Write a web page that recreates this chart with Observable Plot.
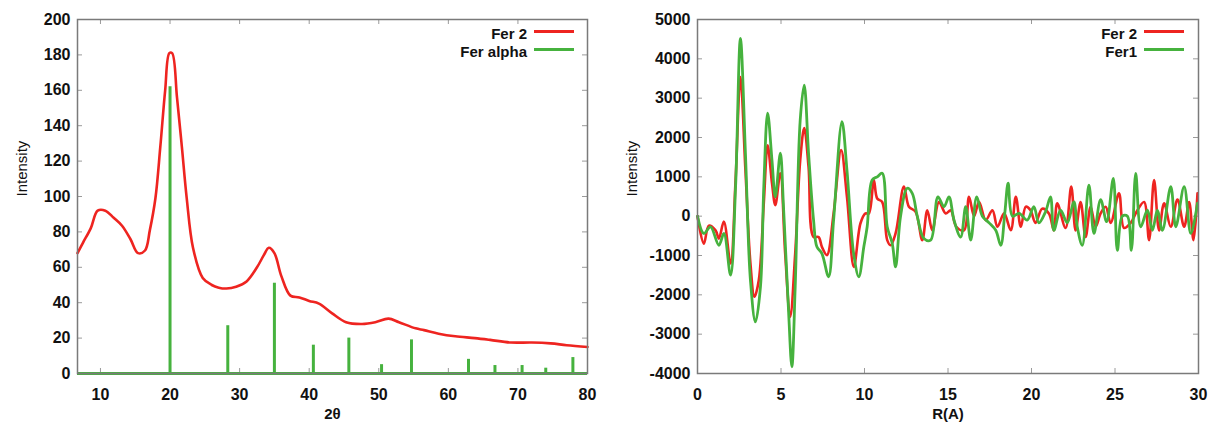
<!DOCTYPE html>
<html>
<head>
<meta charset="utf-8">
<script src="https://cdn.jsdelivr.net/npm/d3@7"></script>
<script src="https://cdn.jsdelivr.net/npm/@observablehq/plot@0.6"></script>
<style>
  html, body { margin: 0; padding: 0; background: #fff; }
  #wrap { position: relative; width: 1212px; height: 426px; font-family: "Liberation Sans", Arial, sans-serif; }
  .panel { position: absolute; top: 0; }
  .leg { position: absolute; font-weight: bold; font-size: 15px; color: #111; line-height: 1; }
  .leg span.t { position: absolute; right: 0; white-space: nowrap; transform: translateY(-50%); }
  .sw { position: absolute; height: 3px; }
</style>
</head>
<body>
<div id="wrap"></div>
<script>
// ---------- Left panel: XRD (2θ vs Intensity) ----------
const xrdTheta = [6.7,7.5,8.6,9.6,10.7,11.9,13.1,14.3,15.4,16.4,17.1,17.9,18.6,19.3,19.9,20.3,21,21.7,22.4,23.3,24.7,26,27,28.1,29.5,31,32.5,33.5,34.2,35,36,37.3,38.6,40,41.4,43.3,45.3,47.6,49.5,51.4,52.9,55.3,56.5,58.6,61,63.8,66,69,72,74.7,77,80];
const xrdFer2  = [68,74,82,92,92,88,83.5,76,68,69.5,81,99,128,160,181,181,156,128,99,71,54,50,48.5,48,49,52,60,67,71,68,55,44,43,41,39.5,34,29,28,29,31,29,25.5,24.5,22.5,21,20,19,17.5,17.5,17,16,15];
const alphaPeakTheta = [20,28.3,35,40.6,45.7,50.4,54.7,62.9,66.7,70.6,74,77.9];
const alphaPeakHeight = [162,27,51,16,20,5,19,8,4.5,4.5,3,9];
const xrdXTicks = [10,20,30,40,50,60,70,80];
const xrdYTicks = [0,20,40,60,80,100,120,140,160,180,200];

// ---------- Right panel: PDF (R vs Intensity) ----------
const rFer1 = [0,0.38,0.78,1.28,1.58,1.98,2.28,2.57,2.87,3.17,3.47,3.77,3.97,4.2,4.46,4.66,4.96,5.15,5.45,5.65,5.85,6.15,6.39,6.65,6.95,7.15,7.45,7.85,8.15,8.65,8.95,9.35,9.66,9.96,10.16,10.46,10.76,11.06,11.36,11.66,11.86,12.16,12.56,12.86,13.16,13.56,13.96,14.4,14.76,15.06,15.36,15.76,16.06,16.36,16.72,17.06,17.46,17.86,18.16,18.4,18.6,18.86,19.26,19.74,20.14,20.44,20.84,21.14,21.34,21.74,22.14,22.54,22.74,23.04,23.44,23.74,24.14,24.5,24.9,25.14,25.44,25.74,25.98,26.24,26.54,26.94,27.24,27.54,27.84,28.34,28.64,29.14,29.54,29.94];
const gFer1 = [0,-440,-272,-740,-440,-1500,750,4520,1600,-1630,-2690,-1800,750,2620,1420,490,1600,240,-2390,-3830,-1800,2440,3330,1600,-100,-780,-950,-1540,-100,2400,1170,-950,-1540,-780,-270,920,1000,1090,-270,-690,-1290,0,710,580,0,-570,-610,490,240,490,-100,-530,240,-610,490,0,-170,-360,-740,70,840,0,70,-100,240,-170,110,490,-360,150,-170,360,-270,-740,790,-440,420,-140,960,-870,0,0,-870,1090,-270,150,-360,150,-360,750,-270,750,-440,330];
const rFer2 = [0,0.38,0.68,1.08,1.28,1.58,1.98,2.28,2.57,2.87,3.17,3.41,3.67,3.97,4.2,4.46,4.66,4.96,5.25,5.55,5.85,6.15,6.39,6.65,6.95,7.25,7.45,7.75,8.15,8.6,8.95,9.36,9.76,10.06,10.26,10.56,10.76,11.06,11.36,11.56,11.86,12.36,12.66,13.06,13.46,13.76,14.06,14.46,14.86,15.16,15.5,15.96,16.26,16.56,16.86,17.26,17.66,17.96,18.36,18.76,19.06,19.36,19.66,19.94,20.24,20.64,21.04,21.34,21.54,22.04,22.38,22.64,22.94,23.24,23.54,23.84,24.14,24.44,24.74,25.24,25.54,25.94,26.34,26.74,27.04,27.34,27.64,27.94,28.34,28.74,29.14,29.44,29.7,29.94];
const gFer2 = [0,-700,-240,-360,-570,-140,-1200,920,3540,1170,-1200,-2050,-1630,330,1800,840,280,1090,-950,-2560,-950,1420,2240,1250,-530,-530,-780,-990,70,1680,490,-1290,-180,70,70,920,450,360,-610,-740,-440,750,240,110,-610,150,-360,360,70,150,-270,-360,490,0,360,-100,150,-270,70,-360,490,-270,240,150,-170,190,70,-360,330,-300,750,-360,360,-530,240,-270,70,240,-170,580,-300,-170,150,360,-610,920,-360,330,-270,420,-270,360,-610,580];
const pdfXTicks = [0,5,10,15,20,25,30];
const pdfYTicks = [-4000,-3000,-2000,-1000,0,1000,2000,3000,4000,5000];

const RED = "#ee2420";
const GREEN = "#46b23e";
const FRAME = "#7a7a7a";
const TICK = "#9a9a9a";

const PANEL_W = 606, H = 426;
const common = {
  width: PANEL_W, height: H,
  marginTop: 19, marginBottom: 53,
  style: {fontFamily: "'Liberation Sans', Arial, sans-serif", background: "#fff", overflow: "visible"}
};
const plain = d => String(d);

function innerTicks(xt, yt, innerW, innerH) {
  return [
    Plot.tickX(xt, {x: d => d, insetTop: innerH - 5, stroke: TICK}),
    Plot.tickX(xt, {x: d => d, insetBottom: innerH - 5, stroke: TICK}),
    Plot.tickY(yt, {y: d => d, insetRight: innerW - 5, stroke: TICK}),
    Plot.tickY(yt, {y: d => d, insetLeft: innerW - 5, stroke: TICK})
  ];
}

// Left plot
const xrdData = xrdTheta.map((t, i) => ({t, v: xrdFer2[i]}));
const peaks = alphaPeakTheta.map((t, i) => ({t, h: alphaPeakHeight[i]}));
const leftML = 77, leftMR = 19;
const left = Plot.plot({
  ...common,
  marginLeft: leftML, marginRight: leftMR,
  x: {domain: [6.7, 80], ticks: xrdXTicks},
  y: {domain: [0, 200], ticks: xrdYTicks},
  marks: [
    ...innerTicks(xrdXTicks, xrdYTicks, PANEL_W - leftML - leftMR, H - 19 - 53),
    Plot.axisX(xrdXTicks, {tickSize: 0, tickPadding: 15, fontSize: 16, fontWeight: "bold", fill: "#111", label: null, tickFormat: plain}),
    Plot.axisY(xrdYTicks, {tickSize: 0, tickPadding: 7, fontSize: 16, fontWeight: "bold", fill: "#111", label: null, tickFormat: plain}),
    Plot.text(["Intensity"], {frameAnchor: "left", rotate: -90, dx: -55, fontSize: 15, fill: "#111"}),
    Plot.text(["2θ"], {frameAnchor: "bottom", dy: 45, fontSize: 15, fontWeight: "bold", fill: "#111"}),
    Plot.line(xrdData, {x: "t", y: "v", stroke: RED, strokeWidth: 2.6, curve: "catmull-rom"}),
    Plot.ruleY([0], {stroke: GREEN, strokeWidth: 3}),
    Plot.ruleX(peaks, {x: "t", y1: 0, y2: "h", stroke: GREEN, strokeWidth: 3}),
    Plot.frame({stroke: FRAME, strokeWidth: 1.5})
  ]
});

// Right plot
const fer1Data = rFer1.map((r, i) => ({r, v: gFer1[i]}));
const fer2Data = rFer2.map((r, i) => ({r, v: gFer2[i]}));
const rightML = 91, rightMR = 14;
const right = Plot.plot({
  ...common,
  marginLeft: rightML, marginRight: rightMR,
  x: {domain: [0, 30], ticks: pdfXTicks},
  y: {domain: [-4000, 5000], ticks: pdfYTicks},
  marks: [
    ...innerTicks(pdfXTicks, pdfYTicks, PANEL_W - rightML - rightMR, H - 19 - 53),
    Plot.axisX(pdfXTicks, {tickSize: 0, tickPadding: 15, fontSize: 16, fontWeight: "bold", fill: "#111", label: null, tickFormat: plain}),
    Plot.axisY(pdfYTicks, {tickSize: 0, tickPadding: 7, fontSize: 16, fontWeight: "bold", fill: "#111", label: null, tickFormat: plain}),
    Plot.text(["Intensity"], {frameAnchor: "left", rotate: -90, dx: -65, fontSize: 15, fill: "#111"}),
    Plot.text(["R(A)"], {frameAnchor: "bottom", dy: 45, fontSize: 15, fontWeight: "bold", fill: "#111"}),
    Plot.line(fer2Data, {x: "r", y: "v", stroke: RED, strokeWidth: 2.6, curve: "catmull-rom"}),
    Plot.line(fer1Data, {x: "r", y: "v", stroke: GREEN, strokeWidth: 2.8, curve: "catmull-rom"}),
    Plot.frame({stroke: FRAME, strokeWidth: 1.5})
  ]
});

const wrap = document.getElementById("wrap");
function addPanel(svg, leftPos, legendItems, legendRight) {
  const p = document.createElement("div");
  p.className = "panel";
  p.style.left = leftPos + "px";
  p.appendChild(svg);
  wrap.appendChild(p);
  legendItems.forEach((it, i) => {
    const y = 33 + i * 18;
    const t = document.createElement("div");
    t.className = "leg";
    t.style.left = "0px";
    t.style.width = (leftPos + legendRight) + "px";
    t.style.top = y + "px";
    t.innerHTML = '<span class="t"></span>';
    t.querySelector("span").textContent = it.label;
    wrap.appendChild(t);
    const s = document.createElement("div");
    s.className = "sw";
    s.style.left = (leftPos + legendRight + 7) + "px";
    s.style.width = "40px";
    s.style.top = (y - 3) + "px";
    s.style.background = it.color;
    wrap.appendChild(s);
  });
}
addPanel(left, 0, [{label: "Fer 2", color: RED}, {label: "Fer alpha", color: GREEN}], 527);
addPanel(right, 606, [{label: "Fer 2", color: RED}, {label: "Fer1", color: GREEN}], 531);
</script>
</body>
</html>
